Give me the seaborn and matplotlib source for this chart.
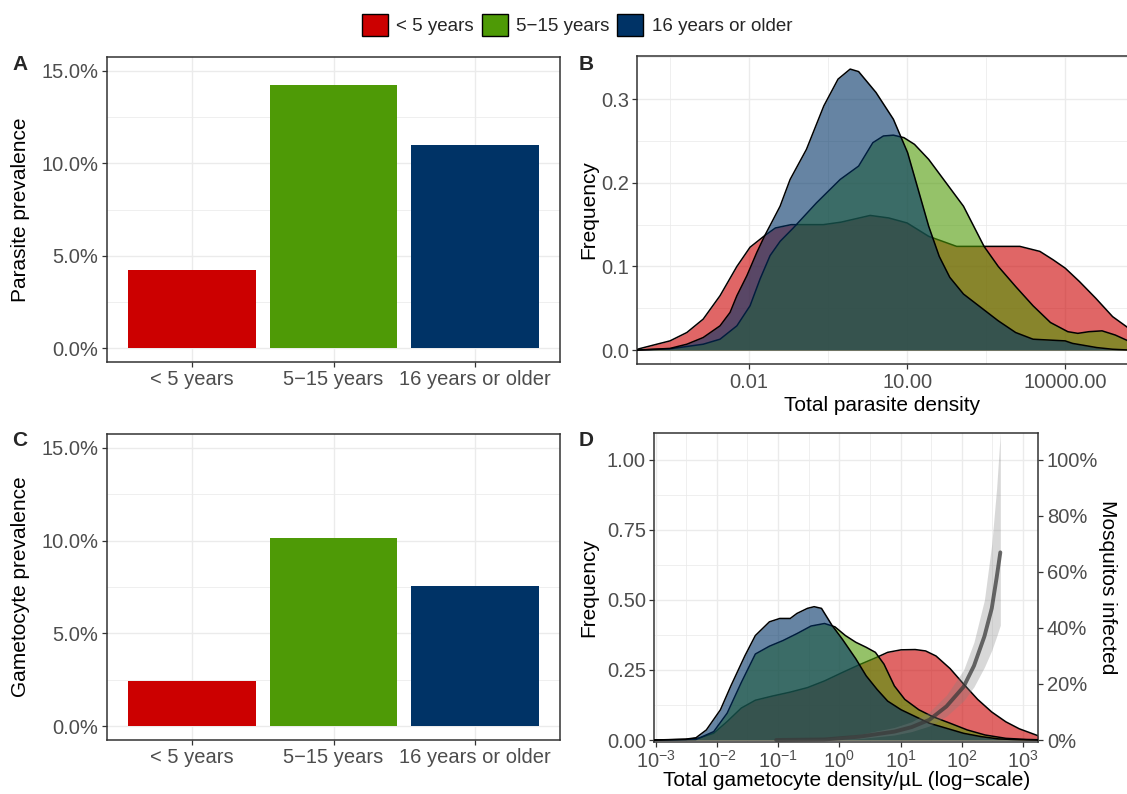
import numpy as np
import pandas as pd
import matplotlib
matplotlib.use("Agg")
import matplotlib.pyplot as plt
import seaborn as sns
from matplotlib.patches import Patch
from matplotlib.ticker import FixedLocator, FixedFormatter, LogFormatterSciNotation, NullFormatter

# ---------------- data ----------------
groups = ["< 5 years", "5\u221215 years", "16 years or older"]
group_colors = ["#CC0000", "#4E9A06", "#003366"]

parasite_prev = [4.23, 14.24, 10.98]      # %
gametocyte_prev = [2.43, 10.16, 7.58]     # %

# Panel B: log10(total parasite density) vs frequency
b_red_x = [-4.12, -3.75, -3.5, -3.18, -2.87, -2.55, -2.23, -1.98, -1.7, -1.5, -1.2, -0.59, -0.25,
           0.3, 0.65, 1.0, 1.41, 1.94, 2.6, 3.14, 3.52, 3.77, 4.0, 4.27, 4.58, 4.9, 5.23]
b_red_y = [0.001, 0.007, 0.011, 0.021, 0.037, 0.065, 0.1, 0.123, 0.137, 0.146, 0.15, 0.15, 0.153,
           0.161, 0.158, 0.152, 0.136, 0.124, 0.124, 0.124, 0.118, 0.108, 0.098, 0.082, 0.062,
           0.04, 0.025]
b_green_x = [-4.12, -3.5, -2.87, -2.55, -2.23, -1.98, -1.79, -1.6, -1.41, -1.16, -0.72, -0.27, 0.08,
             0.35, 0.55, 0.74, 0.94, 1.14, 1.41, 1.74, 2.07, 2.46, 2.73, 3.06, 3.39, 3.72, 4.05,
             4.24, 4.45, 4.7, 4.95, 5.23]
b_green_y = [0.0, 0.0015, 0.007, 0.013, 0.029, 0.053, 0.085, 0.113, 0.13, 0.146, 0.176, 0.204, 0.22,
             0.248, 0.256, 0.257, 0.254, 0.246, 0.228, 0.2, 0.172, 0.124, 0.1, 0.076, 0.053, 0.033,
             0.022, 0.02, 0.022, 0.023, 0.018, 0.01]
b_blue_x = [-4.12, -3.5, -3.18, -2.87, -2.55, -2.36, -2.23, -2.04, -1.85, -1.7, -1.6, -1.41, -1.22,
            -0.91, -0.58, -0.31, -0.08, 0.08, 0.41, 0.74, 1.01, 1.21, 1.41, 1.61, 1.81, 2.07, 2.4,
            2.73, 3.06, 3.39, 4.0, 4.14, 4.6, 4.9, 5.23]
b_blue_y = [0.0, 0.002, 0.007, 0.015, 0.029, 0.045, 0.065, 0.089, 0.117, 0.137, 0.149, 0.172, 0.204,
            0.24, 0.292, 0.324, 0.336, 0.333, 0.308, 0.276, 0.236, 0.192, 0.148, 0.112, 0.087,
            0.067, 0.051, 0.035, 0.021, 0.013, 0.011, 0.008, 0.003, 0.001, 0.0]

# Panel D: log10(total gametocyte density/uL) vs frequency
d_red_x = [-3.02, -2.51, -2.28, -2.05, -1.83, -1.6, -1.37, -1.09, -0.8, -0.52, -0.24, 0.05, 0.33,
           0.61, 0.79, 1.01, 1.24, 1.41, 1.58, 1.81, 2.03, 2.26, 2.49, 2.72, 2.94, 3.25]
d_red_y = [0.0, 0.002, 0.007, 0.024, 0.066, 0.114, 0.142, 0.157, 0.171, 0.187, 0.211, 0.241, 0.269,
           0.295, 0.313, 0.322, 0.323, 0.318, 0.3, 0.255, 0.2, 0.145, 0.1, 0.065, 0.04, 0.015]
d_green_x = [-3.02, -2.34, -2.05, -1.83, -1.6, -1.37, -1.14, -0.92, -0.69, -0.46, -0.24, -0.07, 0.1,
             0.27, 0.44, 0.59, 0.73, 0.9, 1.07, 1.3, 1.52, 1.81, 2.09, 2.38, 2.72, 3.06, 3.25]
d_green_y = [0.0, 0.002, 0.03, 0.096, 0.205, 0.307, 0.335, 0.355, 0.38, 0.407, 0.416, 0.404, 0.373,
             0.349, 0.331, 0.313, 0.271, 0.193, 0.145, 0.108, 0.084, 0.06, 0.036, 0.018, 0.006,
             0.002, 0.001]
d_blue_x = [-3.02, -2.51, -2.34, -2.17, -1.94, -1.77, -1.54, -1.37, -1.14, -0.97, -0.8, -0.69, -0.52,
            -0.41, -0.29, -0.12, 0.05, 0.27, 0.44, 0.62, 0.79, 1.01, 1.24, 1.47, 1.75, 2.03, 2.32,
            2.6, 2.94, 3.25]
d_blue_y = [0.0, 0.003, 0.008, 0.036, 0.108, 0.193, 0.301, 0.373, 0.422, 0.434, 0.434, 0.452, 0.47,
            0.476, 0.47, 0.41, 0.36, 0.29, 0.229, 0.18, 0.139, 0.108, 0.084, 0.06, 0.042, 0.024,
            0.012, 0.004, 0.001, 0.0]

# Panel D: mosquitoes infected (fraction) vs log10 gametocyte density
mos_x = [-1.03, -0.24, 0.33, 0.9, 1.18, 1.47, 1.75, 2.03, 2.2, 2.37, 2.49, 2.57, 2.63]
mos_y = [0.0, 0.002, 0.012, 0.03, 0.046, 0.072, 0.12, 0.19, 0.265, 0.37, 0.47, 0.58, 0.67]
mos_lo = [0.0, 0.0, 0.005, 0.018, 0.03, 0.05, 0.085, 0.14, 0.19, 0.26, 0.32, 0.37, 0.41]
mos_hi = [0.002, 0.006, 0.02, 0.045, 0.065, 0.1, 0.16, 0.25, 0.35, 0.5, 0.7, 0.9, 1.1]

# ---------------- style ----------------
sns.set_theme(style="white")
plt.rcParams["font.family"] = ["Liberation Sans", "DejaVu Sans"]
plt.rcParams["mathtext.fontset"] = "custom"
plt.rcParams["mathtext.rm"] = "Liberation Sans"
plt.rcParams["mathtext.it"] = "Liberation Sans:italic"
plt.rcParams["mathtext.bf"] = "Liberation Sans:bold"
plt.rcParams["mathtext.default"] = "regular"

TICK_FS = 14.5
TITLE_FS = 15
GRID_C = "#EBEBEB"
TICK_C = "#4D4D4D"
SPINE_C = "#333333"

W, H = 1127, 794
fig = plt.figure(figsize=(W / 100, H / 100), dpi=100)


def add_ax(l, t, r, b):
    return fig.add_axes([l / W, 1 - b / H, (r - l) / W, (b - t) / H])


def style_ax(ax):
    for s in ax.spines.values():
        s.set_color(SPINE_C)
        s.set_linewidth(1.1)
        s.set_visible(True)
    ax.tick_params(which="major", length=3.6, width=0.9, color=SPINE_C, labelcolor=TICK_C,
                   labelsize=TICK_FS, pad=2.5, bottom=True, left=True)
    ax.tick_params(which="minor", length=0, bottom=False, left=False)
    ax.grid(which="major", color=GRID_C, linewidth=1.0)
    ax.grid(which="minor", color=GRID_C, linewidth=0.55)
    ax.set_axisbelow(True)


def bar_panel(ax, values, ylabel):
    df = pd.DataFrame({"group": groups, "value": values})
    sns.barplot(data=df, x="group", y="value", hue="group", order=groups, hue_order=groups,
                palette=group_colors, width=0.9, saturation=1, legend=False, ax=ax,
                edgecolor="none")
    style_ax(ax)
    ax.set_xlim(-0.6, 2.6)
    ax.set_ylim(-0.75, 15.75)
    ax.yaxis.set_major_locator(FixedLocator([0, 5, 10, 15]))
    ax.yaxis.set_major_formatter(FixedFormatter(["0.0%", "5.0%", "10.0%", "15.0%"]))
    ax.yaxis.set_minor_locator(FixedLocator([2.5, 7.5, 12.5]))
    ax.grid(which="major", axis="x", color=GRID_C, linewidth=1.0)
    ax.set_xlabel("")
    ax.set_ylabel(ylabel, fontsize=TITLE_FS, color="black")
    ax.yaxis.set_label_coords(-0.192, 0.5)
    ax.yaxis.label.set_va("center")


def density_panel(ax, series):
    z = 2
    for (lx, ly), col in zip(series, group_colors):
        xs = 10 ** np.array(lx)
        ys = np.array(ly)
        ax.fill_between(xs, 0, ys, color=col, alpha=0.6, linewidth=0, zorder=z)
        sns.lineplot(x=xs, y=ys, color="black", linewidth=1.1, estimator=None, sort=False,
                     ax=ax, zorder=z + 0.5)
        z += 1
    ax.set_xscale("log")
    style_ax(ax)


# ---------- Panel A ----------
axA = add_ax(107, 57, 560, 362)
bar_panel(axA, parasite_prev, "Parasite prevalence")

# ---------- Panel C ----------
axC = add_ax(107, 434, 560, 740)
bar_panel(axC, gametocyte_prev, "Gametocyte prevalence")

# ---------- Panel B ----------
axB = add_ax(637.3, 55.7, 1130, 364.3)
density_panel(axB, [(b_red_x, b_red_y), (b_green_x, b_green_y), (b_blue_x, b_blue_y)])
axB.set_xlim(10 ** -4.12, 10 ** 5.23)
axB.set_ylim(-0.017, 0.352)
axB.xaxis.set_major_locator(FixedLocator([0.01, 10, 10000]))
axB.xaxis.set_major_formatter(FixedFormatter(["0.01", "10.00", "10000.00"]))
axB.xaxis.set_minor_locator(FixedLocator([10 ** -3.5, 10 ** -0.5, 10 ** 2.5]))
axB.xaxis.set_minor_formatter(NullFormatter())
axB.yaxis.set_major_locator(FixedLocator([0, 0.1, 0.2, 0.3]))
axB.yaxis.set_major_formatter(FixedFormatter(["0.0", "0.1", "0.2", "0.3"]))
axB.yaxis.set_minor_locator(FixedLocator([0.05, 0.15, 0.25, 0.35]))
axB.tick_params(which="minor", length=0)
axB.set_xlabel("Total parasite density", fontsize=TITLE_FS, color="black")
axB.set_ylabel("Frequency", fontsize=TITLE_FS, color="black")
axB.xaxis.set_label_coords(0.497, -0.134)
axB.xaxis.label.set_va("center")
axB.yaxis.set_label_coords(-0.098, 0.5)
axB.yaxis.label.set_va("center")

# ---------- Panel D ----------
axD = add_ax(654.3, 433.3, 1038.3, 741.7)
density_panel(axD, [(d_red_x, d_red_y), (d_green_x, d_green_y), (d_blue_x, d_blue_y)])
mx = 10 ** np.array(mos_x)
axD.fill_between(mx, mos_lo, mos_hi, color="#808080", alpha=0.3, linewidth=0, zorder=10)
sns.lineplot(x=mx, y=mos_y, color="#3a3a3a", alpha=0.75, linewidth=2.8, estimator=None,
             sort=False, ax=axD, zorder=11)
axD.set_xlim(10 ** -3.02, 10 ** 3.25)
axD.set_ylim(-0.006, 1.095)
axD.xaxis.set_major_locator(FixedLocator([10.0 ** k for k in range(-3, 4)]))
axD.xaxis.set_major_formatter(LogFormatterSciNotation())
axD.xaxis.set_minor_locator(FixedLocator([10.0 ** (k + 0.5) for k in range(-3, 3)]))
axD.xaxis.set_minor_formatter(NullFormatter())
axD.yaxis.set_major_locator(FixedLocator([0, 0.25, 0.5, 0.75, 1.0]))
axD.yaxis.set_major_formatter(FixedFormatter(["0.00", "0.25", "0.50", "0.75", "1.00"]))
axD.yaxis.set_minor_locator(FixedLocator([0.125, 0.375, 0.625, 0.875]))
axD.tick_params(which="minor", length=0)
axD.set_xlabel("Total gametocyte density/\u00b5L (log\u2212scale)", fontsize=TITLE_FS, color="black")
axD.set_ylabel("Frequency", fontsize=TITLE_FS, color="black")
axD.xaxis.set_label_coords(0.5, -0.126)
axD.xaxis.label.set_va("center")
axD.yaxis.set_label_coords(-0.171, 0.5)
axD.yaxis.label.set_va("center")

axD2 = axD.twinx()
axD2.set_ylim(axD.get_ylim())
axD2.yaxis.set_major_locator(FixedLocator([0, 0.2, 0.4, 0.6, 0.8, 1.0]))
axD2.yaxis.set_major_formatter(FixedFormatter(["0%", "20%", "40%", "60%", "80%", "100%"]))
axD2.tick_params(axis="y", which="major", length=3.6, width=0.9, color=SPINE_C,
                 labelcolor=TICK_C, labelsize=TICK_FS, pad=2.5, right=True)
axD2.grid(False)
for s in axD2.spines.values():
    s.set_visible(False)
axD2.set_ylabel("Mosquitos infected", fontsize=TITLE_FS, color="black", rotation=270)
axD2.yaxis.set_label_coords(1.18, 0.5)
axD2.yaxis.label.set_va("center")

# ---------- panel letters ----------
for txt, (px, py) in zip("ABCD", [(20, 64), (586, 64), (20, 441), (586, 441)]):
    fig.text(px / W, 1 - py / H, txt, fontsize=15, fontweight="bold", ha="center", va="center")

# ---------- legend ----------
handles = [Patch(facecolor=c, edgecolor="black", linewidth=1.0) for c in group_colors]
fig.legend(handles, groups, loc="center", bbox_to_anchor=(577 / W, 1 - 25 / H), ncol=3,
           frameon=False, fontsize=13.5, handlelength=1.4, handleheight=1.4,
           handletextpad=0.45, columnspacing=0.4, borderpad=0)

fig.savefig("out.png", dpi=100)
